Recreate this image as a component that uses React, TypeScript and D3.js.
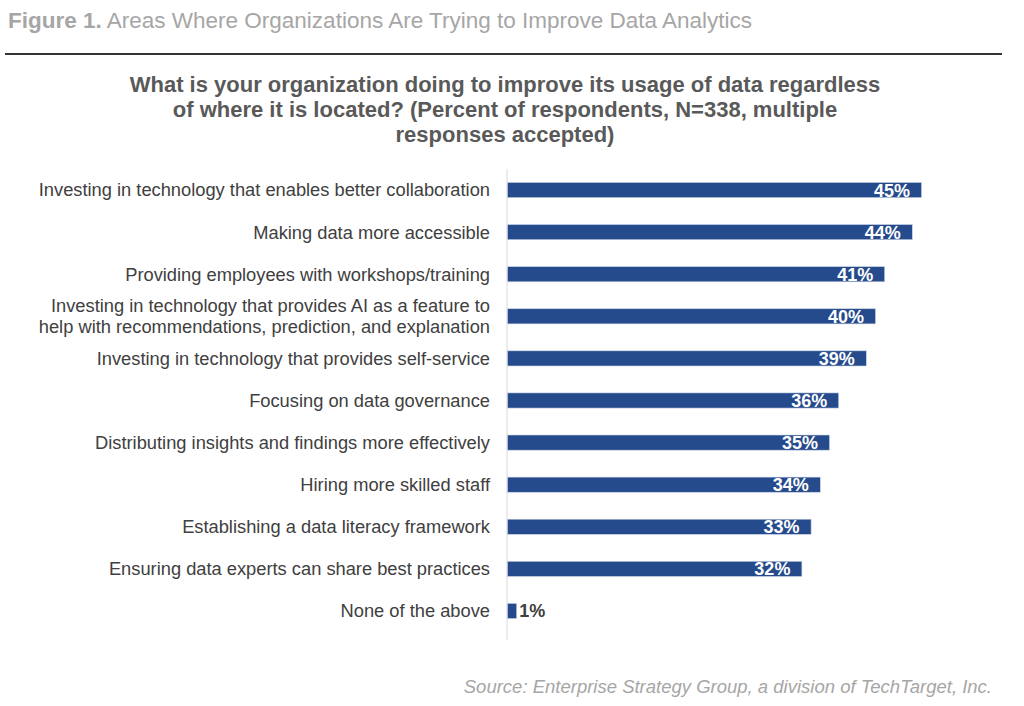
import React from "react";
import * as d3 from "d3";

const categories = [
  ["Investing in technology that enables better collaboration"],
  ["Making data more accessible"],
  ["Providing employees with workshops/training"],
  ["Investing in technology that provides AI as a feature to", "help with recommendations, prediction, and explanation"],
  ["Investing in technology that provides self-service"],
  ["Focusing on data governance"],
  ["Distributing insights and findings more effectively"],
  ["Hiring more skilled staff"],
  ["Establishing a data literacy framework"],
  ["Ensuring data experts can share best practices"],
  ["None of the above"],
];
const values = [45, 44, 41, 40, 39, 36, 35, 34, 33, 32, 1];

const titleLines = [
  "What is your organization doing to improve its usage of data regardless",
  "of where it is located? (Percent of respondents, N=338, multiple",
  "responses accepted)",
];

export default function App() {
  const W = 1024, H = 706;
  const x0 = 507;
  const x = d3.scaleLinear().domain([0, 45]).range([x0, 921]);
  const y = d3
    .scaleBand<number>()
    .domain(d3.range(values.length))
    .range([169, 632])
    .paddingInner(0.64)
    .paddingOuter(0.32);
  const bh = y.bandwidth();
  const font = "Arial, 'Liberation Sans', sans-serif";
  return (
    <svg width={W} height={H} style={{ position: "absolute", left: 0, top: 0, background: "#fff" }} fontFamily={font}>
      <text x={8} y={28} fontSize={22.5} fill="#a6a6a6">
        <tspan fontWeight="bold">Figure 1.</tspan> Areas Where Organizations Are Trying to Improve Data Analytics
      </text>
      <line x1={5} x2={1002} y1={54} y2={54} stroke="#333" strokeWidth={2} />
      {titleLines.map((t, i) => (
        <text key={i} x={505} y={92 + i * 25} textAnchor="middle" fontSize={22} fontWeight="bold" fill="#595959">
          {t}
        </text>
      ))}
      <line x1={x0} x2={x0} y1={169} y2={640} stroke="#d9d9d9" strokeWidth={1} />
      {values.map((v, i) => {
        const cy = (y(i) as number) + bh / 2;
        const lines = categories[i];
        const inside = v > 5;
        return (
          <g key={i}>
            <rect x={x0 + 0.5} y={y(i)} width={x(v) - x0} height={bh} fill="#264b8c" stroke="#c9d3e6" strokeWidth={0.6} />
            {lines.map((l, j) => (
              <text
                key={j}
                x={490}
                y={cy + (j - (lines.length - 1) / 2) * 21}
                dy="0.35em"
                textAnchor="end"
                fontSize={18.3}
                fill="#404040"
              >
                {l}
              </text>
            ))}
            <text
              x={inside ? x(v) - 11 : x(v) + 3}
              y={cy}
              dy="0.36em"
              textAnchor={inside ? "end" : "start"}
              fontSize={18}
              fontWeight="bold"
              fill={inside ? "#fff" : "#404040"}
            >
              {v}%
            </text>
          </g>
        );
      })}
      <text x={992} y={693} textAnchor="end" fontSize={18.5} fontStyle="italic" fill="#a6a6a6">
        Source: Enterprise Strategy Group, a division of TechTarget, Inc.
      </text>
    </svg>
  );
}
